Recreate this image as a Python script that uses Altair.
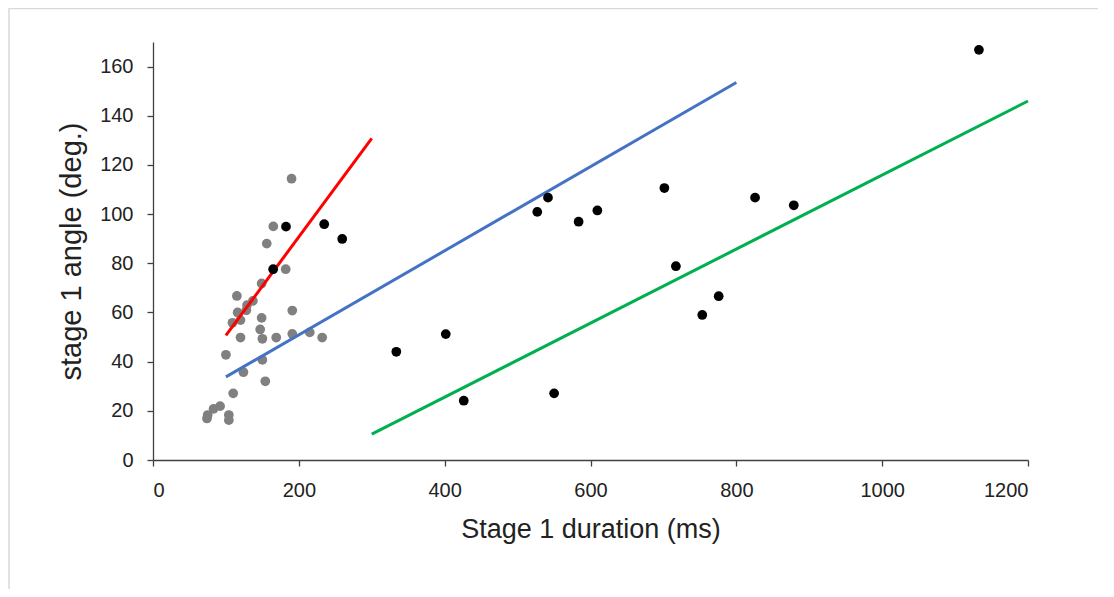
import altair as alt
import pandas as pd

# ---- data ----
gray_x = [190, 165, 156, 182, 149, 115, 137, 129, 128, 116, 120, 109, 149, 191, 147, 150,
          120, 169, 191, 215, 232, 100, 150, 124, 154, 110, 92, 83, 75, 74, 104, 104]
gray_y = [114.4, 95.0, 88.0, 77.6, 71.8, 66.7, 64.7, 63.0, 60.9, 60.0, 56.9, 55.8, 57.8, 60.8,
          53.1, 49.3, 49.8, 49.8, 51.3, 51.9, 49.8, 42.8, 40.7, 35.7, 32.0, 27.1, 21.9, 20.8,
          18.3, 16.9, 18.3, 16.2]

black_x = [164.8, 182.4, 234.8, 259.5, 333.7, 401.5, 426.2, 527.0, 541.7, 550.1, 583.7, 609.4,
           701.3, 717.1, 753.3, 775.8, 825.7, 878.8, 1132.7]
black_y = [77.6, 94.9, 95.9, 89.9, 44.0, 51.2, 24.1, 100.9, 106.7, 27.1, 96.9, 101.5,
           110.6, 78.8, 59.0, 66.6, 106.7, 103.6, 166.8]

red_x, red_y = [100, 300], [50.7, 130.8]
blue_x, blue_y = [100, 800], [33.8, 153.5]
green_x, green_y = [300, 1200], [10.5, 146.0]

x_ticks = [0, 200, 400, 600, 800, 1000, 1200]
y_ticks = [0, 20, 40, 60, 80, 100, 120, 140, 160]

FONT = "Liberation Sans"
W, H = 875, 418

gray_df = pd.DataFrame({"x": gray_x, "y": gray_y})
black_df = pd.DataFrame({"x": black_x, "y": black_y})
lines_df = pd.DataFrame({
    "x": red_x + blue_x + green_x,
    "y": red_y + blue_y + green_y,
    "fit": ["red"] * 2 + ["blue"] * 2 + ["green"] * 2,
})

xscale = alt.Scale(domain=[0, 1200], nice=False, zero=True)
yscale = alt.Scale(domain=[0, 170], nice=False, zero=True)

xaxis = alt.Axis(values=x_ticks, format="d", title="Stage 1 duration (ms)", grid=False,
                 tickSize=6, labelPadding=14, titlePadding=16,
                 labelFontSize=20, titleFontSize=27, labelFont=FONT, titleFont=FONT,
                 titleFontWeight="normal", domainColor="#404040", tickColor="#404040",
                 labelColor="#222222", titleColor="#222222", domainWidth=1.3, tickWidth=1.3)
yaxis = alt.Axis(values=y_ticks, format="d", title="stage 1 angle (deg.)", grid=False,
                 tickSize=6, labelPadding=14, titlePadding=13,
                 labelFontSize=20, titleFontSize=29, labelFont=FONT, titleFont=FONT,
                 titleFontWeight="normal", domainColor="#404040", tickColor="#404040",
                 labelColor="#222222", titleColor="#222222", domainWidth=1.3, tickWidth=1.3)

gray = alt.Chart(gray_df).mark_circle(size=95, opacity=1, color="#808080").encode(
    x=alt.X("x:Q", scale=xscale, axis=xaxis), y=alt.Y("y:Q", scale=yscale, axis=yaxis))

fits = alt.Chart(lines_df).mark_line(strokeWidth=3).encode(
    x=alt.X("x:Q", scale=xscale),
    y=alt.Y("y:Q", scale=yscale),
    detail="fit:N",
    color=alt.Color("fit:N", scale=alt.Scale(domain=["red", "blue", "green"],
                                             range=["#FF0000", "#4472C4", "#00B050"]),
                    legend=None),
)

black = alt.Chart(black_df).mark_circle(size=95, opacity=1, color="#000000").encode(
    x=alt.X("x:Q", scale=xscale), y=alt.Y("y:Q", scale=yscale))

# light chart-area frame (left and top edges) as in the reference
frame_left = alt.Chart(pd.DataFrame({"a": [0]})).mark_rule(color="#d9d9d9", strokeWidth=1.5).encode(
    x=alt.value(-144), y=alt.value(-34), y2=alt.value(560))
frame_top = alt.Chart(pd.DataFrame({"a": [0]})).mark_rule(color="#d9d9d9", strokeWidth=1.5).encode(
    x=alt.value(-144), x2=alt.value(980), y=alt.value(-33.5))

chart = alt.layer(frame_left, frame_top, gray, fits, black).properties(
    width=W, height=H,
    background="white",
    autosize=alt.AutoSizeParams(type="none"),
    padding={"left": 145, "top": 34, "right": 70, "bottom": 129},
).configure_view(stroke=None)

chart.save("out.html", embed_options={"renderer": "svg", "actions": False})
